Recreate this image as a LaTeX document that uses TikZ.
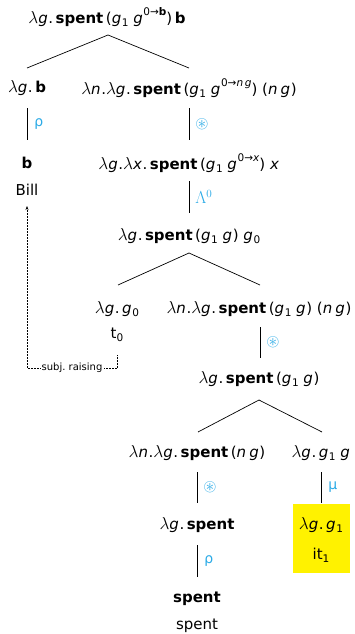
\documentclass[tikz,border=0pt]{standalone}
\usepackage{amssymb}
\usepackage{fontspec}
\usetikzlibrary{arrows.meta}
\setmainfont{DejaVu Sans}
\definecolor{lblue}{HTML}{2AAAE6}
\definecolor{hiyel}{HTML}{FFF200}
\newcommand\lm{{\fontsize{18}{18}\selectfont$\lambda$}}
\newcommand\vg{\textit{g}\kern0.6pt}
\newcommand\vn{\textit{n}\kern0.6pt}
\newcommand\vx{\textit{x}\kern0.6pt}
\newcommand\spnt{\textbf{spent}}
\newcommand\ssub[1]{\raisebox{-0.2em}{\fontsize{10.5}{10}\selectfont #1}}
\newcommand\ssup[1]{\raisebox{0.5em}{\fontsize{10.5}{10}\selectfont #1}}
\newcommand\gone{\vg\ssub{1}}
\newcommand\cast{{\fontsize{17}{17}\selectfont$\circledast$}}
\newcommand\bigLam{{\fontsize{16}{16}\selectfont$\Lambda^{0}$}}
\begin{document}
\begin{tikzpicture}[x=1pt,y=-1pt,
  lab/.style={inner sep=0pt,font=\fontsize{15}{17}\selectfont},
  rule/.style={font=\fontsize{14}{15}\selectfont,text=lblue,inner sep=0pt,anchor=west},
  edge/.style={line width=0.7pt},
  sub/.style={inner sep=1pt,font=\fontsize{10}{11}\selectfont},
  raise/.style={densely dotted,line width=0.5pt}]
\useasboundingbox (0,0) rectangle (355,634);
\fill[hiyel] (293,504) rectangle (350,573);
% nodes
\node[lab] (root) at (107,17) {\lm\vg.\,\spnt\,(\gone\ \vg\ssup{0→\textbf{b}})\,\textbf{b}};
\node[lab] (lb) at (27,88) {\lm\vg.\,\textbf{b}};
\node[lab] (lnA) at (189,88) {\lm\vn.\lm\vg.\,\spnt\,(\gone\ \vg\ssup{0→\textit{n\,g}})\ (\vn\,\vg)};
\node[lab] (b) at (27,163) {\textbf{b}};
\node[lab] (bill) at (27,190) {Bill};
\node[lab] (lx) at (189,163) {\lm\vg.\lm\vx.\,\spnt\,(\gone\ \vg\ssup{0→\textit{x}})\ \vx};
\node[lab] (g0) at (189,236) {\lm\vg.\,\spnt\,(\gone\ \vg)\ \vg\ssub{0}};
\node[lab] (lg0) at (117,309) {\lm\vg.\,\vg\ssub{0}};
\node[lab] (t0) at (117,335) {t\ssub{0}};
\node[lab] (lnB) at (259,309) {\lm\vn.\lm\vg.\,\spnt\,(\gone\ \vg)\ (\vn\,\vg)};
\node[lab] (sg) at (259,379) {\lm\vg.\,\spnt\,(\gone\ \vg)};
\node[lab] (lnC) at (197,453) {\lm\vn.\lm\vg.\,\spnt\,(\vn\,\vg)};
\node[lab] (g1g) at (321,453) {\lm\vg.\,\gone\ \vg};
\node[lab] (g1) at (321,525) {\lm\vg.\,\gone};
\node[lab] (it) at (321,555) {it\ssub{1}};
\node[lab] (lsp) at (197,525) {\lm\vg.\,\spnt};
\node[lab] (spb) at (197,599) {\spnt};
\node[lab] (spw) at (197,626) {spent};
% branching
\coordinate (r0) at (108,35);
\draw[edge] (r0) -- (27,68) (r0) -- (189,68);
\coordinate (r1) at (189,253);
\draw[edge] (r1) -- (118,285) (r1) -- (260,285);
\coordinate (r2) at (259,400);
\draw[edge] (r2) -- (198,432) (r2) -- (322,432);
% unary
\draw[edge] (27,108) -- (27,140) node[rule,midway,xshift=7pt] {ρ};
\draw[edge] (189,108) -- (189,140) node[rule,midway,xshift=6pt] {\cast};
\draw[edge] (189,181) -- (189,213) node[rule,midway,xshift=6pt] {\bigLam};
\draw[edge] (260,327) -- (260,358) node[rule,midway,xshift=6pt] {\cast};
\draw[edge] (197,472) -- (197,503) node[rule,midway,xshift=6pt] {\cast};
\draw[edge] (321,472) -- (321,503) node[rule,midway,xshift=7pt] {μ};
\draw[edge] (197,545) -- (197,577) node[rule,midway,xshift=7pt] {ρ};
% subject raising
\node[sub] (sr) at (72,368) {subj.\ raising};
\draw[raise] (117,355) |- (sr.east);
\draw[raise,-{Stealth[length=4pt,width=3pt]}] (sr.west) -| (27,206);
\end{tikzpicture}
\end{document}
